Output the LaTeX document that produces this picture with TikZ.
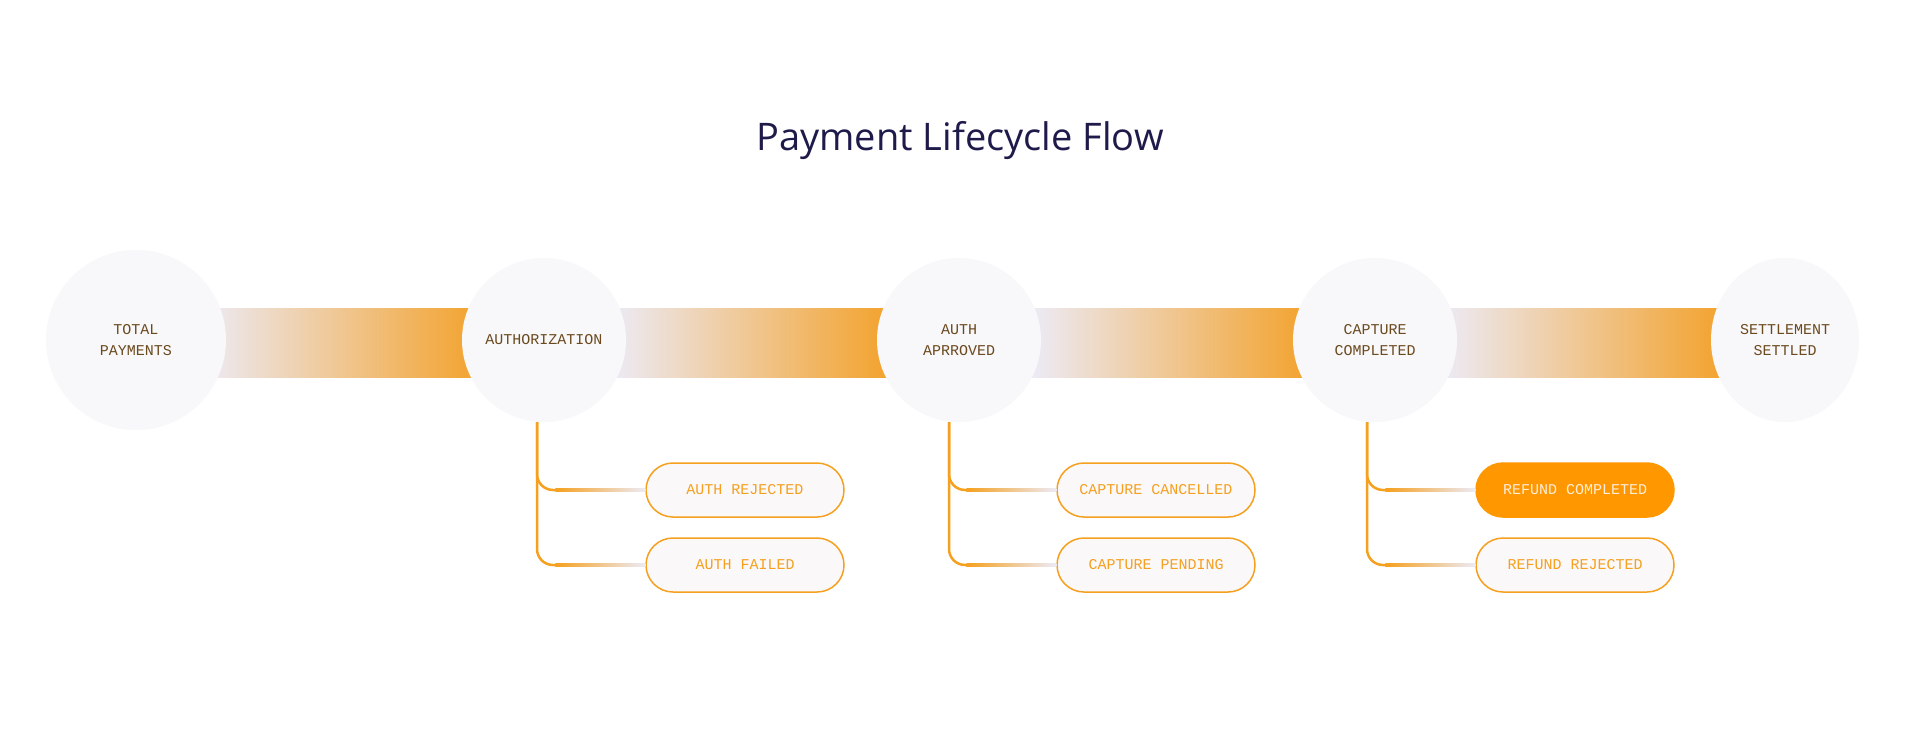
\documentclass[tikz,border=0pt]{standalone}
\usetikzlibrary{shapes.geometric}
\usepackage{fontspec}
\setmainfont{Open Sans}
\newfontfamily\monof{Liberation Mono}
\definecolor{lav}{HTML}{ECEBF7}
\definecolor{beige}{HTML}{E2C9A6}
\definecolor{org}{HTML}{F3A22C}
\definecolor{orgl}{HTML}{F5A01F}
\definecolor{cfill}{HTML}{F8F7FA}
\definecolor{brown}{HTML}{6B4A1E}
\definecolor{navy}{HTML}{1E1B4B}
\definecolor{pfill}{HTML}{FAF8F9}
\definecolor{pdark}{HTML}{FF9800}
\begin{document}
\begin{tikzpicture}[x=1pt,y=-1pt,
  stage/.style={circle,fill=cfill,minimum size=164pt,inner sep=0pt,align=center,
    font=\monof\fontsize{15}{21}\selectfont,text=brown},
  pill/.style={rounded corners=27pt,draw=orgl,line width=1.5pt,fill=pfill,minimum width=198pt,
    minimum height=54pt,inner sep=0pt,font=\monof\fontsize{15}{21}\selectfont,text=orgl},
  pillon/.style={pill,fill=pdark,draw=pdark,text=white!85!orange},
  branch/.style={draw=orgl,line width=2.5pt,rounded corners=16pt},
  band/.style={left color=lav,middle color=beige,right color=org}]
\useasboundingbox (0,0) rectangle (1920,750);
\fill[white] (0,0) rectangle (1920,750);
\node[font=\fontsize{38}{44}\selectfont,text=navy] (title) at (960,141) {Payment Lifecycle Flow};
% bands
\shade[band] (200,308) rectangle (480,377);
\shade[band] (610,308) rectangle (890,377);
\shade[band] (1030,308) rectangle (1310,377);
\shade[band] (1440,308) rectangle (1725,377);
% stages
\node[stage,minimum size=180pt] (c1) at (136,340) {TOTAL\\PAYMENTS};
\node[stage] (c2) at (544,340) {AUTHORIZATION};
\node[stage] (c3) at (959,340) {AUTH\\APRROVED};
\node[stage] (c4) at (1375,340) {CAPTURE\\COMPLETED};
\node[stage,ellipse,minimum width=148pt,minimum height=164pt] (c5) at (1785,340) {SETTLEMENT\\SETTLED};
% pills
\node[pill] (p1) at (745,490) {AUTH REJECTED};
\node[pill] (p2) at (745,565) {AUTH FAILED};
\node[pill] (p3) at (1156,490) {CAPTURE CANCELLED};
\node[pill] (p4) at (1156,565) {CAPTURE PENDING};
\node[pillon] (p5) at (1575,490) {REFUND COMPLETED};
\node[pill] (p6) at (1575,565) {REFUND REJECTED};
% branches
\foreach \c/\a/\b/\dx in {c2/p1/p2/-7,c3/p3/p4/-10,c4/p5/p6/-8}{
  \draw[branch] ([xshift=\dx pt]\c.south) |- ([xshift=-80pt]\a.west);
  \draw[branch] ([xshift=\dx pt]\c.south) |- ([xshift=-80pt]\b.west);
  \shade[left color=orgl,right color=lav] ([xshift=-90pt,yshift=-1.25pt]\a.west) rectangle ([yshift=1.25pt]\a.west);
  \shade[left color=orgl,right color=lav] ([xshift=-90pt,yshift=-1.25pt]\b.west) rectangle ([yshift=1.25pt]\b.west);
}
\end{tikzpicture}
\end{document}
